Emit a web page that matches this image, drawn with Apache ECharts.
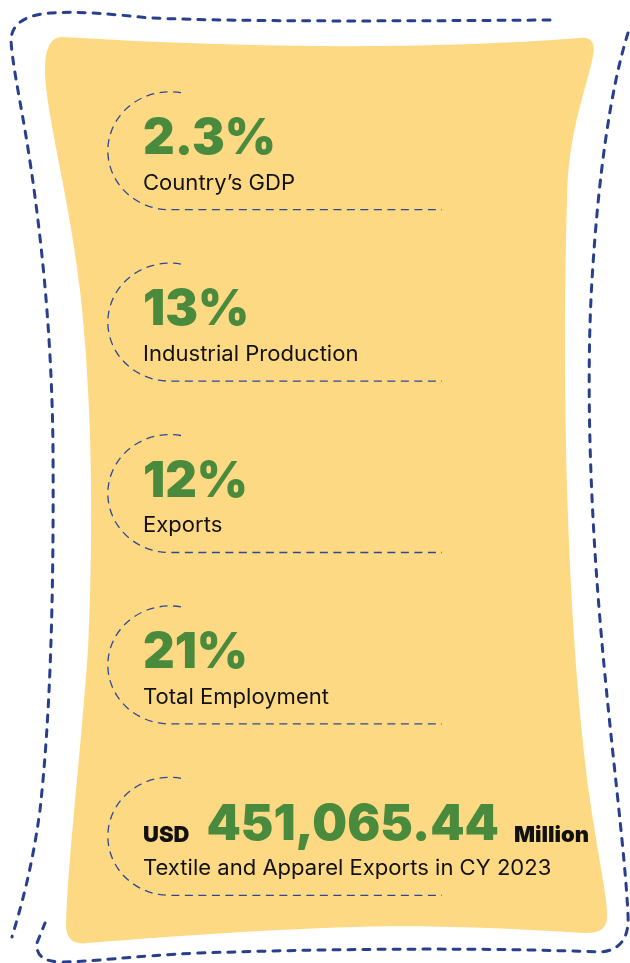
<!DOCTYPE html>
<html>
<head>
<meta charset="utf-8">
<script src="https://cdn.jsdelivr.net/npm/echarts@6/dist/echarts.min.js"></script>
<style>
html,body{margin:0;padding:0;background:#fff;}
#main{width:630px;height:963px;}
</style>
</head>
<body>
<div id="main"></div>
<script>
// ---- data ----
const values = ['2.3%', '13%', '12%', '21%', '451,065.44'];
const prefixes = ['', '', '', '', 'USD'];
const suffixes = ['', '', '', '', 'Million'];
const labels = ['Country\u2019s GDP', 'Industrial Production', 'Exports', 'Total Employment', 'Textile and Apparel Exports in CY 2023'];

// ---- styles ----
const GREEN = '#4a8a3d';
const NAVY = '#283f8e';
const YELLOW = '#fdd984';
const BIG_FONT = '900 49px Inter';
const SUB_FONT = '400 21px Inter';
const UNIT_FONT = '900 22px Inter';

const mctx = document.createElement('canvas').getContext('2d');
function measure(t, f) { mctx.font = f; return mctx.measureText(t).width; }

const chart = echarts.init(document.getElementById('main'), null, {renderer: 'canvas'});

const blobPath = 'M 62 37 C 250 48, 420 50, 580 38 Q 597 36, 593 56 ' +
  'C 586 92, 568 130, 567 200 C 561 400, 568 640, 590 800 ' +
  'C 600 868, 608 900, 607 918 Q 606 934, 585 933 ' +
  'C 500 928, 420 925, 357 927 C 250 930, 150 938, 88 943 Q 66 946, 66 925 ' +
  'C 68 860, 80 760, 88 650 C 95 500, 90 380, 80 290 C 70 200, 45 110, 45 70 Q 45 37, 62 37 Z';

const framePath1 = 'M 550 20 C 400 21, 250 22, 150 18 C 110 14, 80 11, 50 13 Q 12 16, 11 40 ' +
  'C 12 60, 18 90, 25 130 C 40 220, 52 330, 53 450 C 54 600, 50 720, 40 810 C 32 870, 20 910, 12 937';
const framePath2 = 'M 628 33 C 610 90, 598 180, 592 280 C 586 380, 590 500, 600 620 ' +
  'C 610 740, 625 850, 628 915 Q 630 950, 600 952 C 500 948, 350 948, 200 953 ' +
  'C 130 956, 90 962, 62 962 Q 35 962, 37 943 L 45 923';

const frameStyle = {fill: null, stroke: NAVY, lineWidth: 3, lineDash: [7, 8], lineCap: 'round'};

const option = {
  animation: false,
  grid: {left: 0, right: 0, top: 65, bottom: 41},
  xAxis: {type: 'value', min: 0, max: 1, show: false},
  yAxis: {type: 'category', data: labels, inverse: true, show: false},
  series: [{
    type: 'custom',
    z: 1,
    silent: true,
    clip: false,
    data: [[0, 0]],
    renderItem: function () {
      return {type: 'group', children: [
        {type: 'path', shape: {pathData: blobPath}, style: {fill: YELLOW}},
        {type: 'path', shape: {pathData: framePath1}, style: frameStyle},
        {type: 'path', shape: {pathData: framePath2}, style: frameStyle}
      ]};
    }
  }, {
    type: 'custom',
    z: 10,
    silent: true,
    clip: false,
    data: labels.map((_, i) => [0, i]),
    renderItem: function (params, api) {
      const i = api.value(1);
      const cy = api.coord([0, i])[1];
      const x0 = 143;
      const children = [];
      children.push({
        type: 'path',
        shape: {pathData: 'M 181 ' + (cy - 58) + ' A 62 59 0 1 0 172 ' + (cy + 59) + ' L 442 ' + (cy + 59)},
        style: {fill: null, stroke: '#2d4899', lineWidth: 1.3, lineDash: [8, 5.5]}
      });
      let x = x0;
      if (prefixes[i]) {
        children.push({type: 'text', x: x, y: cy - 1, style: {text: prefixes[i], font: UNIT_FONT, fill: '#111', align: 'left', verticalAlign: 'middle'}});
        x += measure(prefixes[i], UNIT_FONT) + 17;
      }
      children.push({type: 'text', x: x, y: cy - 11.5, style: {text: values[i], font: BIG_FONT, fill: GREEN, align: 'left', verticalAlign: 'middle'}});
      x += measure(values[i], BIG_FONT) + 15;
      if (suffixes[i]) {
        children.push({type: 'text', x: x, y: cy - 1, style: {text: suffixes[i], font: UNIT_FONT, fill: '#111', align: 'left', verticalAlign: 'middle'}});
      }
      children.push({type: 'text', x: x0, y: cy + 32.5, scaleX: 1.05, style: {text: labels[i], font: SUB_FONT, fill: '#111', align: 'left', verticalAlign: 'middle'}});
      return {type: 'group', children: children};
    }
  }]
};
chart.setOption(option);
</script>
</body>
</html>
